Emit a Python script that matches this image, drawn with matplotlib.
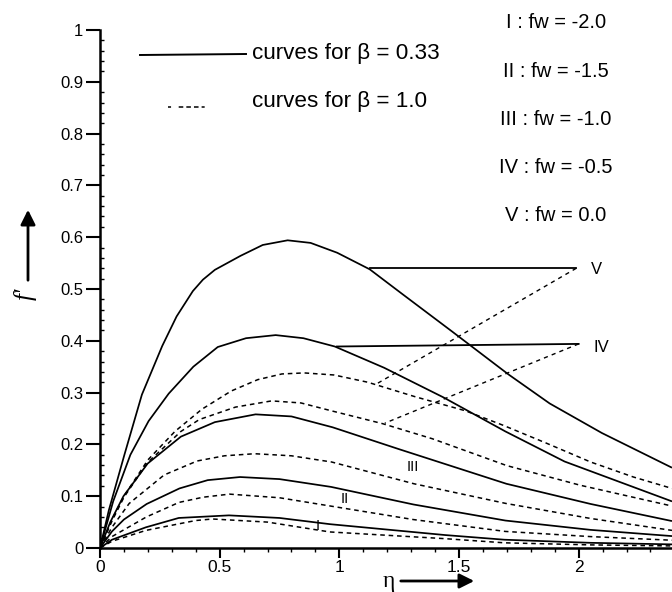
import matplotlib
matplotlib.use('Agg')
import matplotlib.pyplot as plt
from matplotlib.ticker import FixedLocator, MultipleLocator

plt.rcParams['font.family'] = ['Liberation Sans', 'DejaVu Sans']

# ---------------- data ----------------
# solid curves: beta = 0.33
eta_V_s = [0, 0.037, 0.102, 0.175, 0.26, 0.32, 0.388, 0.43, 0.48, 0.587, 0.68, 0.784, 0.88, 0.991, 1.127, 1.264, 1.471, 1.707, 1.879, 2.097, 2.39]
f_V_s = [0, 0.073, 0.18, 0.296, 0.39, 0.447, 0.496, 0.518, 0.537, 0.564, 0.585, 0.594, 0.589, 0.570, 0.538, 0.490, 0.418, 0.335, 0.279, 0.222, 0.155]

eta_IV_s = [0, 0.055, 0.127, 0.203, 0.287, 0.39, 0.492, 0.61, 0.734, 0.85, 0.981, 1.187, 1.434, 1.694, 1.941, 2.39]
f_IV_s = [0, 0.09, 0.18, 0.245, 0.298, 0.35, 0.388, 0.405, 0.411, 0.405, 0.389, 0.348, 0.291, 0.225, 0.167, 0.090]

eta_III_s = [0, 0.043, 0.098, 0.199, 0.338, 0.48, 0.65, 0.80, 0.972, 1.248, 1.698, 2.05, 2.39]
f_III_s = [0, 0.05, 0.10, 0.163, 0.215, 0.243, 0.258, 0.254, 0.233, 0.191, 0.124, 0.085, 0.052]

eta_II_s = [0, 0.05, 0.10, 0.195, 0.332, 0.45, 0.585, 0.75, 0.965, 1.310, 1.694, 2.05, 2.39]
f_II_s = [0, 0.032, 0.055, 0.085, 0.115, 0.131, 0.137, 0.133, 0.118, 0.084, 0.053, 0.035, 0.023]

eta_I_s = [0, 0.05, 0.192, 0.329, 0.539, 0.75, 0.961, 1.442, 1.69, 2.05, 2.39]
f_I_s = [0, 0.016, 0.040, 0.058, 0.063, 0.058, 0.046, 0.025, 0.016, 0.010, 0.007]

# dashed curves: beta = 1.0
eta_V_d = [0, 0.05, 0.10, 0.20, 0.313, 0.426, 0.548, 0.659, 0.76, 0.853, 0.978, 1.119, 1.317, 1.526, 1.684, 1.862, 2.05, 2.229, 2.39]
f_V_d = [0, 0.055, 0.10, 0.17, 0.225, 0.268, 0.303, 0.325, 0.336, 0.338, 0.334, 0.320, 0.292, 0.265, 0.237, 0.203, 0.166, 0.137, 0.115]

eta_IV_d = [0, 0.05, 0.10, 0.199, 0.338, 0.415, 0.566, 0.717, 0.84, 0.974, 1.181, 1.388, 1.70, 2.008, 2.39]
f_IV_d = [0, 0.052, 0.098, 0.165, 0.225, 0.248, 0.272, 0.284, 0.280, 0.264, 0.240, 0.211, 0.159, 0.121, 0.081]

eta_III_d = [0, 0.05, 0.122, 0.268, 0.406, 0.52, 0.646, 0.80, 0.968, 1.312, 1.696, 2.05, 2.39]
f_III_d = [0, 0.04, 0.086, 0.141, 0.168, 0.178, 0.182, 0.178, 0.166, 0.124, 0.086, 0.057, 0.034]

eta_II_d = [0, 0.05, 0.194, 0.330, 0.43, 0.541, 0.75, 0.963, 1.308, 1.693, 2.05, 2.39]
f_II_d = [0, 0.022, 0.060, 0.088, 0.098, 0.104, 0.097, 0.081, 0.055, 0.032, 0.022, 0.015]

eta_I_d = [0, 0.05, 0.192, 0.399, 0.470, 0.70, 0.960, 1.442, 1.69, 2.05, 2.39]
f_I_d = [0, 0.013, 0.034, 0.053, 0.056, 0.050, 0.031, 0.018, 0.010, 0.006, 0.004]

# pointer lines for labels V and IV
ptr_V_s_eta, ptr_V_s_f = [1.13, 1.99], [0.54, 0.54]
ptr_V_d_eta, ptr_V_d_f = [1.99, 1.16], [0.54, 0.318]
ptr_IV_s_eta, ptr_IV_s_f = [0.99, 2.0], [0.389, 0.394]
ptr_IV_d_eta, ptr_IV_d_f = [2.0, 1.19], [0.394, 0.241]

# curve labels
curve_labels = ['V', 'IV', 'III', 'II', 'I']
curve_label_eta = [2.05, 2.06, 1.307, 1.023, 0.911]
curve_label_f = [0.537, 0.388, 0.156, 0.094, 0.043]

legend_texts = ['curves for β = 0.33', 'curves for β = 1.0']
fw_texts = ['I : fw = -2.0', 'II : fw = -1.5', 'III : fw = -1.0', 'IV : fw = -0.5', 'V : fw = 0.0']

x_ticks = [0, 0.5, 1, 1.5, 2]
x_ticklabels = ['0', '0.5', '1', '1.5', '2']
y_ticks = [0, 0.1, 0.2, 0.3, 0.4, 0.5, 0.6, 0.7, 0.8, 0.9, 1.0]
y_ticklabels = ['0', '0.1', '0.2', '0.3', '0.4', '0.5', '0.6', '0.7', '0.8', '0.9', '1']

# ---------------- figure ----------------
W, H = 672, 592
fig = plt.figure(figsize=(W / 100, H / 100), dpi=100)

def fx(px):
    return px / W

def fy(py):
    return 1 - py / H

x0, y0, ytop = 100, 548, 30
ax = fig.add_axes([fx(x0), fy(y0), 1 - fx(x0), (y0 - ytop) / H])
ax.set_xlim(0, 2.39)
ax.set_ylim(0, 1.0)

solid_kw = dict(color='black', lw=1.25, solid_capstyle='butt', solid_joinstyle='round')
dash_kw = dict(color='black', lw=1.1, ls=(0, (3, 2.5)))

for e, f in [(eta_V_s, f_V_s), (eta_IV_s, f_IV_s), (eta_III_s, f_III_s),
             (eta_II_s, f_II_s), (eta_I_s, f_I_s)]:
    ax.plot(e, f, **solid_kw)
for e, f in [(eta_V_d, f_V_d), (eta_IV_d, f_IV_d), (eta_III_d, f_III_d),
             (eta_II_d, f_II_d), (eta_I_d, f_I_d)]:
    ax.plot(e, f, **dash_kw)

ax.plot(ptr_V_s_eta, ptr_V_s_f, color='black', lw=1.3)
ax.plot(ptr_V_d_eta, ptr_V_d_f, color='black', lw=1.0, ls=(0, (3, 3)))
ax.plot(ptr_IV_s_eta, ptr_IV_s_f, color='black', lw=1.3)
ax.plot(ptr_IV_d_eta, ptr_IV_d_f, color='black', lw=1.0, ls=(0, (3, 3)))

for lab, e, f in zip(curve_labels, curve_label_eta, curve_label_f):
    if lab in ('V', 'IV'):
        ax.text(e, f, lab, fontsize=12, ha='left', va='center')
    else:
        ax.text(e, f, lab, fontsize=10.5, ha='center', va='center')

# spines / ticks
for s in ('top', 'right'):
    ax.spines[s].set_visible(False)
for s in ('left', 'bottom'):
    ax.spines[s].set_linewidth(1.8)

ax.xaxis.set_major_locator(FixedLocator(x_ticks))
ax.set_xticklabels(x_ticklabels)
ax.yaxis.set_major_locator(FixedLocator(y_ticks))
ax.set_yticklabels(y_ticklabels)
ax.xaxis.set_minor_locator(MultipleLocator(0.1))
ax.yaxis.set_minor_locator(MultipleLocator(0.02))
ax.tick_params(axis='x', which='major', direction='out', length=7, width=1.5, pad=2, labelsize=12.5)
ax.tick_params(axis='x', which='minor', direction='out', length=3, width=1.0)
ax.tick_params(axis='y', which='major', direction='out', length=10, width=1.5, pad=2, labelsize=12)
ax.tick_params(axis='y', which='minor', direction='in', length=3, width=1.0)

# legend (manual)
fig.add_artist(plt.Line2D([fx(140), fx(246)], [fy(55), fy(54)], color='black', lw=1.4))
fig.add_artist(plt.Line2D([fx(168), fx(206)], [fy(107), fy(107)], color='black', lw=1.1,
                          ls=(0, (2, 5, 3, 2, 3, 2, 3, 2))))
fig.text(fx(252), fy(53), legend_texts[0], fontsize=16.2, ha='left', va='center')
fig.text(fx(252), fy(102), legend_texts[1], fontsize=16.2, ha='left', va='center')

for i, t in enumerate(fw_texts):
    fig.text(fx(556), fy(23 + 48.2 * i), t, fontsize=14.5, ha='center', va='center')

# axis labels with arrows
fig.text(fx(25), fy(294), "f'", fontsize=18, rotation=90, style='italic',
         family=['Liberation Serif', 'DejaVu Serif'], ha='center', va='center')
fig.add_artist(matplotlib.patches.FancyArrowPatch((fx(28), fy(283)), (fx(28), fy(207)),
               transform=fig.transFigure, arrowstyle='-|>', mutation_scale=22, lw=2, color='black'))
fig.text(fx(389), fy(581), 'η', fontsize=17, family=['Liberation Serif', 'DejaVu Serif'],
         ha='center', va='center')
fig.add_artist(matplotlib.patches.FancyArrowPatch((fx(398), fy(581)), (fx(477), fy(581)),
               transform=fig.transFigure, arrowstyle='-|>', mutation_scale=22, lw=2, color='black'))

fig.savefig('out.png', dpi=100)
